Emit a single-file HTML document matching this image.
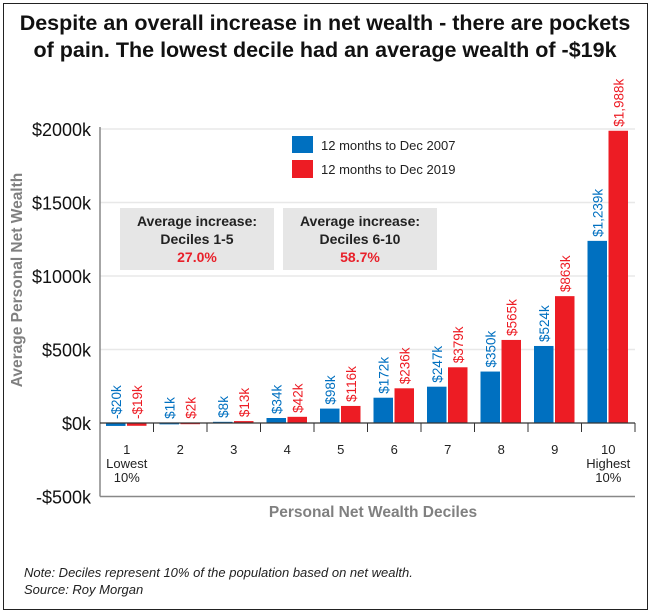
<!DOCTYPE html>
<html><head><meta charset="utf-8"><style>
body{margin:0;background:#fff;font-family:"Liberation Sans",Arial,sans-serif}
#wrap{position:relative;width:653px;height:615px;overflow:hidden}
</style></head><body>
<div id="wrap">
<svg id="chart" width="653" height="615" xmlns="http://www.w3.org/2000/svg">
<rect x="3.5" y="3.5" width="644" height="606" fill="#fff" stroke="#222" stroke-width="1"/>
<text x="325" y="30" text-anchor="middle" font-size="21.5" font-weight="bold" fill="#111">Despite an overall increase in net wealth - there are pockets</text>
<text x="325" y="57" text-anchor="middle" font-size="21.5" font-weight="bold" fill="#111">of pain. The lowest decile had an average wealth of -$19k</text>
<g id="grid"></g>
<rect x="120" y="208" width="154" height="62" fill="#e6e6e6"/>
<text x="197" y="226" text-anchor="middle" font-size="14" font-weight="bold" fill="#222">Average increase:</text>
<text x="197" y="244" text-anchor="middle" font-size="14" font-weight="bold" fill="#222">Deciles 1-5</text>
<text x="197" y="262" text-anchor="middle" font-size="14" font-weight="bold" fill="#e8202a">27.0%</text>
<rect x="283" y="208" width="154" height="62" fill="#e6e6e6"/>
<text x="360" y="226" text-anchor="middle" font-size="14" font-weight="bold" fill="#222">Average increase:</text>
<text x="360" y="244" text-anchor="middle" font-size="14" font-weight="bold" fill="#222">Deciles 6-10</text>
<text x="360" y="262" text-anchor="middle" font-size="14" font-weight="bold" fill="#e8202a">58.7%</text>
<rect x="292" y="136" width="21" height="17" fill="#0070c0"/>
<text x="321" y="150" font-size="13" fill="#222">12 months to Dec 2007</text>
<rect x="292" y="160" width="21" height="18" fill="#ed1c24"/>
<text x="321" y="174" font-size="13" fill="#222">12 months to Dec 2019</text>
<g id="bars"></g>
<text transform="translate(22,280) rotate(-90)" text-anchor="middle" font-size="15.5" font-weight="bold" fill="#808080">Average Personal Net Wealth</text>
<text x="373" y="517" text-anchor="middle" font-size="15.5" font-weight="bold" fill="#808080">Personal Net Wealth Deciles</text>
<text x="24" y="577" font-size="13" font-style="italic" fill="#222">Note: Deciles represent 10% of the population based on net wealth.</text>
<text x="24" y="594" font-size="13" font-style="italic" fill="#222">Source: Roy Morgan</text>
</svg>
</div>
<script>
const categories=["1","2","3","4","5","6","7","8","9","10"];
const subLabels=[["Lowest","10%"],[],[],[],[],[],[],[],[],["Highest","10%"]];
const values2007=[-20,1,8,34,98,172,247,350,524,1239];
const values2019=[-19,2,13,42,116,236,379,565,863,1988];
const labels2007=["-$20k","$1k","$8k","$34k","$98k","$172k","$247k","$350k","$524k","$1,239k"];
const labels2019=["-$19k","$2k","$13k","$42k","$116k","$236k","$379k","$565k","$863k","$1,988k"];
const yTicks=[-500,0,500,1000,1500,2000];
const yTickLabels=["-$500k","$0k","$500k","$1000k","$1500k","$2000k"];

const NS="http://www.w3.org/2000/svg";
const L=100,R=635,Y0=423,PX=73.5/500;
const y=v=>Y0-v*PX;
const bw=(R-L)/categories.length;
const x=i=>L+i*bw;
function mk(tag,attrs,parent){const e=document.createElementNS(NS,tag);for(const k in attrs)e.setAttribute(k,attrs[k]);parent.appendChild(e);return e;}
const grid=document.getElementById('grid'),bars=document.getElementById('bars');
yTicks.forEach((t,i)=>{
  if(t>0){const g=mk('line',{x1:L,x2:R,y1:y(t),y2:y(t),stroke:'#e8e8e8','stroke-width':1.5},grid);
  
  }
  const tx=mk('text',{x:91,y:y(t)+7,'text-anchor':'end','font-size':18,fill:'#111'},grid);
  tx.textContent=yTickLabels[i];
  
  
});
const ax=mk('line',{x1:L,x2:L,y1:y(2000)-2,y2:y(-500),stroke:'#888','stroke-width':1.5},grid);


const bx=mk('line',{x1:L,x2:R,y1:y(-500),y2:y(-500),stroke:'#888','stroke-width':1.5},grid);


categories.forEach((c,i)=>{
  const x0=x(i)+6,w=19.5;
  [[values2007,labels2007,'#0070c0',x0,'2007'],[values2019,labels2019,'#ed1c24',x0+w+1.5,'2019']].forEach(([vals,labs,col,bx0,s])=>{
    const v=vals[i];
    const r=mk('rect',{x:bx0,y:Math.min(y(v),Y0),width:w,height:Math.max(Math.abs(y(v)-Y0),1.5),fill:col},bars);
    
    
    const top=Math.min(y(v),Y0)-4;
    const t=mk('text',{transform:`translate(${bx0+w/2+5},${top}) rotate(-90)`,'font-size':13.5,fill:col},bars);
    t.textContent=labs[i];
    
    
  });
  if(i>0){const tk=mk('line',{x1:x(i),x2:x(i),y1:Y0,y2:Y0+9,stroke:'#333','stroke-width':1},bars);
  
  }
  const cx=x(i)+bw/2;
  const lab=mk('text',{x:cx,y:454,'text-anchor':'middle','font-size':13,fill:'#222'},bars);
  lab.textContent=c;
  
  
  subLabels[i].forEach((s,j)=>{
    const sl=mk('text',{x:cx,y:468+j*14,'text-anchor':'middle','font-size':13,fill:'#222'},bars);
    sl.textContent=s;
    
    
  });
});
const zl=mk('line',{x1:L,x2:R,y1:Y0,y2:Y0,stroke:'#333','stroke-width':1.2},bars);


const et=mk('line',{x1:R,x2:R,y1:Y0,y2:Y0+9,stroke:'#333','stroke-width':1},bars);


</script>
</body></html>
